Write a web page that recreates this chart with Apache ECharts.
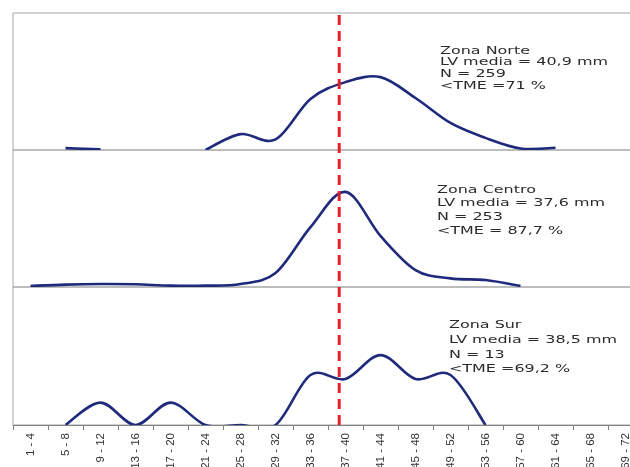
<!DOCTYPE html>
<html>
<head>
<meta charset="utf-8">
<script src="https://cdn.jsdelivr.net/npm/echarts@6/dist/echarts.min.js"></script>
<style>html,body{margin:0;padding:0;background:#fff;}#c{width:630px;height:467px;}</style>
</head>
<body>
<div id="c"></div>
<script>
// Categories (shell length classes, mm)
const categories = ['1 - 4','5 - 8','9 - 12','13 - 16','17 - 20','21 - 24','25 - 28','29 - 32','33 - 36','37 - 40','41 - 44','45 - 48','49 - 52','53 - 56','57 - 60','61 - 64','65 - 68','69 - 72'];
// Frequency (%) per zone
const norte  = [null, 0.6, 0.2, null, null, 0, 5.1, 3.4, 16.4, 21.8, 23.4, 16.7, 8.7, 3.9, 0.5, 0.7, null, null];
const centro = [0.4, 0.9, 1.1, 1.0, 0.5, 0.5, 1.1, 5.2, 22.3, 35.4, 19.0, 6.3, 3.2, 2.6, 0.4, null, null, null];
const sur    = [null, 0, 7.3, 0, 7.3, 0, 0, 0, 16.3, 15.0, 22.8, 15.0, 16.3, 0, null, null, null, null];
const yMax = [44, 51, 45];
// Position of the TME reference line, in category units
const tmePos = 9.32;
// Annotation texts
const zones = ['Zona Norte', 'Zona Centro', 'Zona Sur'];
const lvMedia = ['40,9', '37,6', '38,5'];
const nVals = [259, 253, 13];
const tmeTexts = ['<TME =71 %', '<TME = 87,7 %', '<TME =69,2 %'];

const lineColor = '#1f2a7c';
const gridLeft = 13, gridWidth = 630;
const panels = [
  {top: 13, height: 137},
  {top: 150, height: 137},
  {top: 287, height: 138}
];
const textPos = [
  {x: 440, y: 45, lh: 11.7},
  {x: 437, y: 183, lh: 13.7},
  {x: 449, y: 318, lh: 14.7}
];

const grids = panels.map(p => ({left: gridLeft, width: gridWidth, top: p.top, height: p.height,
  outerBoundsMode: 'none', containLabel: false,
  show: true, borderColor: '#a6a6a6', borderWidth: 1, backgroundColor: 'transparent'}));
grids.push({left: gridLeft, width: gridWidth, top: 13, height: 412, show: false, outerBoundsMode: 'none'});

const xAxes = panels.map((p, i) => ({
  type: 'category', gridIndex: i, data: categories, boundaryGap: true,
  axisLine: {show: i === 2, lineStyle: {color: '#808080', width: 1}},
  axisTick: {show: i === 2, length: 5, lineStyle: {color: '#808080'}},
  axisLabel: i === 2 ? {show: true, interval: 0, rotate: 90, margin: 8, fontSize: 11.5,
    fontFamily: 'Liberation Sans', color: '#333333'} : {show: false},
  splitLine: {show: false}
}));
xAxes.push({type: 'value', gridIndex: 3, min: 0, max: categories.length, show: false});

const yAxes = yMax.map((m, i) => ({type: 'value', gridIndex: i, min: 0, max: m, show: false}));
yAxes.push({type: 'value', gridIndex: 3, min: 0, max: 1, show: false});

// Smoothed curve (Catmull-Rom style, like spreadsheet "smoothed line") through the data points
function makeRenderer(values) {
  return function (params, api) {
    if (params.dataIndex !== 0) return null;
    const runs = [];
    let cur = [];
    values.forEach((v, i) => {
      if (v === null) { if (cur.length) runs.push(cur); cur = []; }
      else cur.push(api.coord([i, v]));
    });
    if (cur.length) runs.push(cur);
    let d = '';
    runs.forEach(pts => {
      d += 'M' + pts[0][0] + ' ' + pts[0][1];
      for (let k = 0; k < pts.length - 1; k++) {
        const p0 = pts[k - 1] || pts[k], p1 = pts[k], p2 = pts[k + 1], p3 = pts[k + 2] || pts[k + 1];
        const c1x = p1[0] + (p2[0] - p0[0]) / 6, c1y = p1[1] + (p2[1] - p0[1]) / 6;
        const c2x = p2[0] - (p3[0] - p1[0]) / 6, c2y = p2[1] - (p3[1] - p1[1]) / 6;
        d += 'C' + c1x + ' ' + c1y + ' ' + c2x + ' ' + c2y + ' ' + p2[0] + ' ' + p2[1];
      }
    });
    return {type: 'path', shape: {pathData: d}, style: {fill: 'none', stroke: lineColor, lineWidth: 2.6, lineJoin: 'round'}};
  };
}

const seriesData = [norte, centro, sur];
const series = seriesData.map((vals, i) => ({
  type: 'custom', xAxisIndex: i, yAxisIndex: i, clip: true, z: 3,
  data: vals.map((v, k) => [k, v === null ? 0 : v]),
  encode: {x: 0, y: 1},
  renderItem: makeRenderer(vals)
}));
series.push({
  type: 'line', xAxisIndex: 3, yAxisIndex: 3, data: [[tmePos, 0], [tmePos, 1]],
  symbol: 'none', lineStyle: {color: '#e3202a', width: 3, type: [10, 6]}, z: 5, silent: true
});

const graphics = zones.map((z, i) => ({
  type: 'text', x: textPos[i].x, y: textPos[i].y, scaleX: 1.45, z: 10,
  style: {
    text: [z, 'LV media = ' + lvMedia[i] + ' mm', 'N = ' + nVals[i], tmeTexts[i]].join('\n'),
    font: '11px "DejaVu Sans"', fill: '#2b2b2b', lineHeight: textPos[i].lh,
    align: 'left', verticalAlign: 'top'
  }
}));

const chart = echarts.init(document.getElementById('c'), null, {renderer: 'canvas'});
chart.setOption({
  animation: false,
  backgroundColor: '#ffffff',
  grid: grids,
  xAxis: xAxes,
  yAxis: yAxes,
  series: series,
  graphic: graphics
});
</script>
</body>
</html>
